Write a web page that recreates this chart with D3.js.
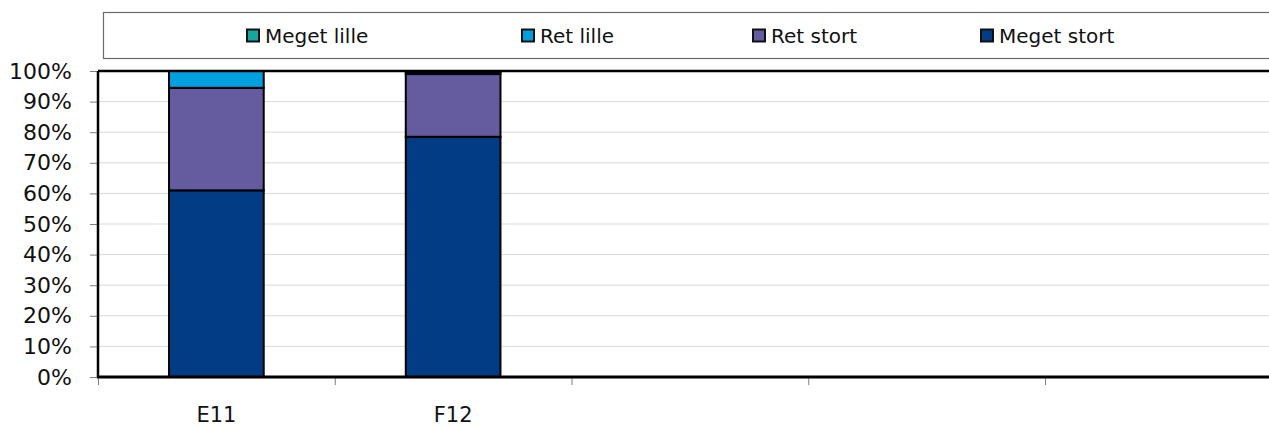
<!DOCTYPE html>
<html>
<head>
<meta charset="utf-8">
<script src="https://cdn.jsdelivr.net/npm/d3@7"></script>
<style>
  body { margin: 0; background: #fff; }
  svg { display: block; font-family: "DejaVu Sans", sans-serif; }
</style>
</head>
<body>
<div class="chart"></div>
<script>
// categories (only the first two slots carry data)
var categories = ['E11', 'F12', '', '', ''];
var seriesNames = ['Meget lille', 'Ret lille', 'Ret stort', 'Meget stort'];
var meget_lille = [0, 0.3, 0, 0, 0];
var ret_lille = [5.5, 0.7, 0, 0, 0];
var ret_stort = [33.5, 20.5, 0, 0, 0];
var meget_stort = [61, 78.5, 0, 0, 0];
var yTicks = [0, 10, 20, 30, 40, 50, 60, 70, 80, 90, 100];
var colors = ['#12a89d', '#00a0e0', '#655ca0', '#013c85'];

function init() {
  var width = 1269,
      height = 428,
      plot = { x1: 98, y1: 71, step: 236.75, y2: 377 };
  plot.x2 = plot.x1 + categories.length * plot.step;

  var svg = d3.select('.chart').append('svg')
      .attr('width', width)
      .attr('height', height);

  var idx = d3.range(categories.length);
  var x = d3.scaleBand().domain(idx).range([plot.x1, plot.x2]).padding(0);
  var xEdge = d3.scaleLinear().domain([0, categories.length]).range([plot.x1, plot.x2]);
  var y = d3.scaleLinear().domain([0, 100]).range([plot.y2, plot.y1]);

  // stack order: bottom first
  var rows = idx.map(function(i) {
    return { i: i, 'Meget stort': meget_stort[i], 'Ret stort': ret_stort[i],
             'Ret lille': ret_lille[i], 'Meget lille': meget_lille[i] };
  });
  var stackKeys = ['Meget stort', 'Ret stort', 'Ret lille', 'Meget lille'];
  var stacked = d3.stack().keys(stackKeys)(rows);
  var color = d3.scaleOrdinal().domain(seriesNames).range(colors);

  // gridlines
  svg.append('g').selectAll('line')
    .data(yTicks.filter(function(d) { return d > 0 && d < 100; }))
    .enter().append('line')
      .attr('x1', plot.x1).attr('x2', plot.x2)
      .attr('y1', function(d) { return y(d); })
      .attr('y2', function(d) { return y(d); })
      .attr('stroke', '#d9d9d9').attr('stroke-width', 1);

  // y axis
  var yAxis = svg.append('g')
      .attr('transform', 'translate(' + plot.x1 + ',0)')
      .call(d3.axisLeft(y).tickValues(yTicks).tickSize(8).tickPadding(18)
        .tickFormat(function(d) { return d + '%'; }));
  yAxis.select('.domain').remove();
  yAxis.selectAll('.tick line').attr('stroke', '#808080');
  yAxis.selectAll('text').attr('font-size', 22).attr('fill', '#111')
      .attr('font-family', '"DejaVu Sans", sans-serif');

  // x ticks at slot edges
  var xTicks = svg.append('g')
      .attr('transform', 'translate(0,' + plot.y2 + ')')
      .call(d3.axisBottom(xEdge).ticks(categories.length).tickSize(8).tickFormat(''));
  xTicks.select('.domain').remove();
  xTicks.selectAll('.tick line').attr('stroke', '#808080');

  // x labels
  var xAxis = svg.append('g')
      .attr('transform', 'translate(0,' + plot.y2 + ')')
      .call(d3.axisBottom(x).tickSize(0).tickPadding(30)
        .tickFormat(function(i) { return categories[i]; }));
  xAxis.select('.domain').remove();
  xAxis.selectAll('text').attr('font-size', 21).attr('fill', '#111')
      .attr('font-family', '"DejaVu Sans", sans-serif');

  // bars
  var barW = x.bandwidth() * 0.4;
  svg.append('g').selectAll('g')
    .data(stacked)
    .enter().append('g')
      .attr('fill', function(d) { return color(d.key); })
    .selectAll('rect')
    .data(function(d) { return d.filter(function(s) { return s[1] - s[0] > 0; }); })
    .enter().append('rect')
      .attr('x', function(d) { return x(d.data.i) + (x.bandwidth() - barW) / 2; })
      .attr('y', function(d) { return y(d[1]); })
      .attr('width', barW)
      .attr('height', function(d) { return y(d[0]) - y(d[1]); })
      .attr('stroke', '#000')
      .attr('stroke-width', 2);

  // plot frame
  svg.append('line').attr('x1', plot.x1).attr('x2', plot.x2)
      .attr('y1', plot.y1).attr('y2', plot.y1)
      .attr('stroke', '#000').attr('stroke-width', 2.5);
  svg.append('line').attr('x1', plot.x1).attr('x2', plot.x1)
      .attr('y1', plot.y1).attr('y2', plot.y2)
      .attr('stroke', '#000').attr('stroke-width', 2.5);
  svg.append('line').attr('x1', plot.x1 - 1).attr('x2', plot.x2)
      .attr('y1', plot.y2).attr('y2', plot.y2)
      .attr('stroke', '#000').attr('stroke-width', 3);

  // legend
  var legend = svg.append('g');
  legend.append('rect')
      .attr('x', 103.5).attr('y', 12.5)
      .attr('width', 1300).attr('height', 46)
      .attr('fill', '#fff').attr('stroke', '#6a6a6a').attr('stroke-width', 1.2);
  var legendX = [247, 522, 753, 981];
  var item = legend.selectAll('g.item')
    .data(seriesNames)
    .enter().append('g')
      .attr('class', 'item')
      .attr('transform', function(d, i) { return 'translate(' + legendX[i] + ',36)'; });
  item.append('rect')
      .attr('x', 0).attr('y', -6.5)
      .attr('width', 12).attr('height', 12)
      .attr('fill', function(d) { return color(d); })
      .attr('stroke', '#111').attr('stroke-width', 2);
  item.append('text')
      .attr('x', 18).attr('y', 0)
      .attr('dy', '0.35em')
      .attr('font-size', 20)
      .attr('fill', '#111')
      .text(function(d) { return d; });
}

init();
</script>
</body>
</html>
